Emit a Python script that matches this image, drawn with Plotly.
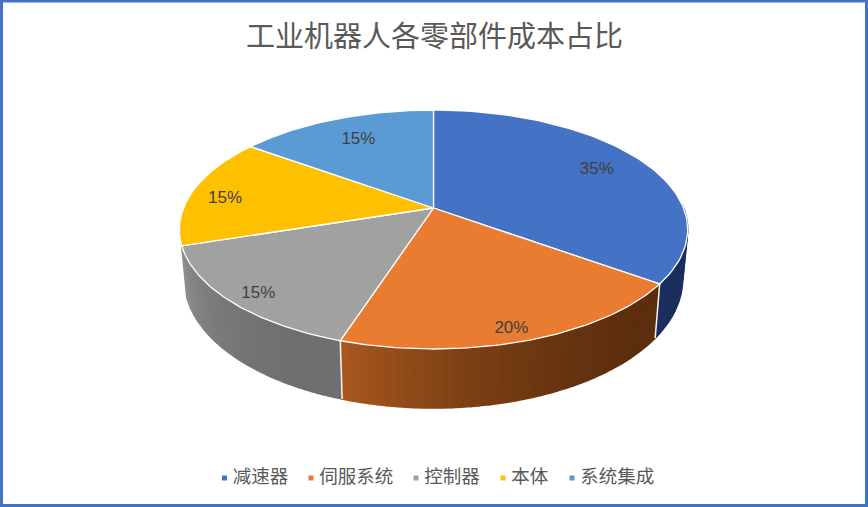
import math
import plotly.graph_objects as go

# valeurs du camembert
categories = ['减速器', '伺服系统', '控制器', '本体', '系统集成']
values = [35, 20, 15, 15, 15]
title_text = '工业机器人各零部件成本占比'

colors = ['#4472c4', '#e97c30', '#a2a1a2', '#ffc000', '#5b9bd5']
# teinte du flanc: (début, fin) dans le sens horaire, None = flanc caché
wall_colors = [('#182a55', '#1b3060'), ('#5c2e0d', '#a9591f'), ('#6f6f72', '#909090'), None, None]
label_radius = [0.78, 0.92, 0.90, 0.85, 0.74]
label_frac = [0.5, 0.52, 0.47, 0.435, 0.5]
legend_x = [224.5, 311, 416, 503, 572]

# perspective du disque
CX, CY = 433.5, 208
A, B, K = 250, 115.6, 0.18
WALL_SCALE, WALL_DROP = 0.98, 48.4


def project(theta, r=1.0, bottom=False):
    u = r * math.sin(theta)
    v = r * math.cos(theta)
    w = 1 + K * v
    x, y = A * u / w, -B * v / w
    if bottom:
        return CX + WALL_SCALE * x, CY + y + WALL_DROP / w
    return CX + x, CY + y


def mix(c1, c2, t):
    a = [int(c1[i:i + 2], 16) for i in (1, 3, 5)]
    b = [int(c2[i:i + 2], 16) for i in (1, 3, 5)]
    return 'rgb(%d,%d,%d)' % tuple(a[i] + (b[i] - a[i]) * t for i in range(3))


total = sum(values)
edges = [0]
for val in values:
    edges.append(edges[-1] + val / total * 2 * math.pi)

fig = go.Figure()

# flanc du disque, bande par bande
for i in range(len(values)):
    if wall_colors[i] is None:
        continue
    t0, t1 = edges[i], edges[i + 1]
    steps = 40
    for s in range(steps):
        a0 = t0 + (t1 - t0) * s / steps
        a1 = t0 + (t1 - t0) * (s + 1) / steps
        mid = (a0 + a1) / 2
        if math.cos(mid) > 0.05:
            continue
        p = [project(a0), project(a1), project(a1, bottom=True), project(a0, bottom=True)]
        col = mix(wall_colors[i][0], wall_colors[i][1], ((s + 0.5) / steps) ** 2)
        fig.add_trace(go.Scatter(x=[q[0] for q in p], y=[q[1] for q in p], mode='lines',
                                 fill='toself', fillcolor=col, line=dict(color=col, width=1.6),
                                 hoverinfo='skip', showlegend=False))
    # arête blanche au début de la tranche
    if math.cos(t0) < 0.05:
        top_pt, bot_pt = project(t0), project(t0, bottom=True)
        fig.add_trace(go.Scatter(x=[top_pt[0], bot_pt[0]], y=[top_pt[1], bot_pt[1]], mode='lines',
                                 line=dict(color='#fdf6ee', width=1.5),
                                 hoverinfo='skip', showlegend=False))

# dessus du disque
for i, cat in enumerate(categories):
    n = 80
    pts = [project(edges[i] + (edges[i + 1] - edges[i]) * s / n) for s in range(n + 1)]
    xs = [CX] + [q[0] for q in pts] + [CX]
    ys = [CY] + [q[1] for q in pts] + [CY]
    fig.add_trace(go.Scatter(x=xs, y=ys, mode='lines', fill='toself', fillcolor=colors[i],
                             line=dict(color='#ffffff', width=1.3), name=cat,
                             hoverinfo='name', showlegend=False))

# étiquettes de pourcentage
lx, ly = [], []
for i in range(len(values)):
    q = project(edges[i] + (edges[i + 1] - edges[i]) * label_frac[i], label_radius[i])
    lx.append(q[0])
    ly.append(q[1])
fig.add_trace(go.Scatter(x=lx, y=ly, mode='text', text=['%d%%' % v for v in values],
                         textfont=dict(family='Liberation Sans', size=17, color='#404040'),
                         hoverinfo='skip', showlegend=False))

# légende en bas
fig.add_trace(go.Scatter(x=legend_x, y=[478] * len(categories), mode='markers+text',
                         marker=dict(symbol='square', size=5, color=colors),
                         text=[' ' + c for c in categories], textposition='middle right',
                         textfont=dict(family='Noto Sans CJK SC', size=18.5, color='#595959'),
                         hoverinfo='skip', showlegend=False))

fig.update_layout(
    width=868, height=507,
    margin=dict(l=0, r=0, t=0, b=0),
    paper_bgcolor='#ffffff', plot_bgcolor='#ffffff',
    xaxis=dict(range=[0, 868], visible=False, fixedrange=True),
    yaxis=dict(range=[507, 0], visible=False, fixedrange=True),
    annotations=[dict(text=title_text, x=434, y=34, xref='x', yref='y', showarrow=False,
                      font=dict(family='Noto Sans CJK SC', size=29, color='#595959'))],
    shapes=[dict(type='rect', x0=1.5, x1=866.5, y0=1, y1=505.5, xref='x', yref='y',
                 line=dict(color='#4472c4', width=3))],
)

fig.write_html("out.html", config=dict(displayModeBar=False),
               post_script="document.body.style.margin='0';")
